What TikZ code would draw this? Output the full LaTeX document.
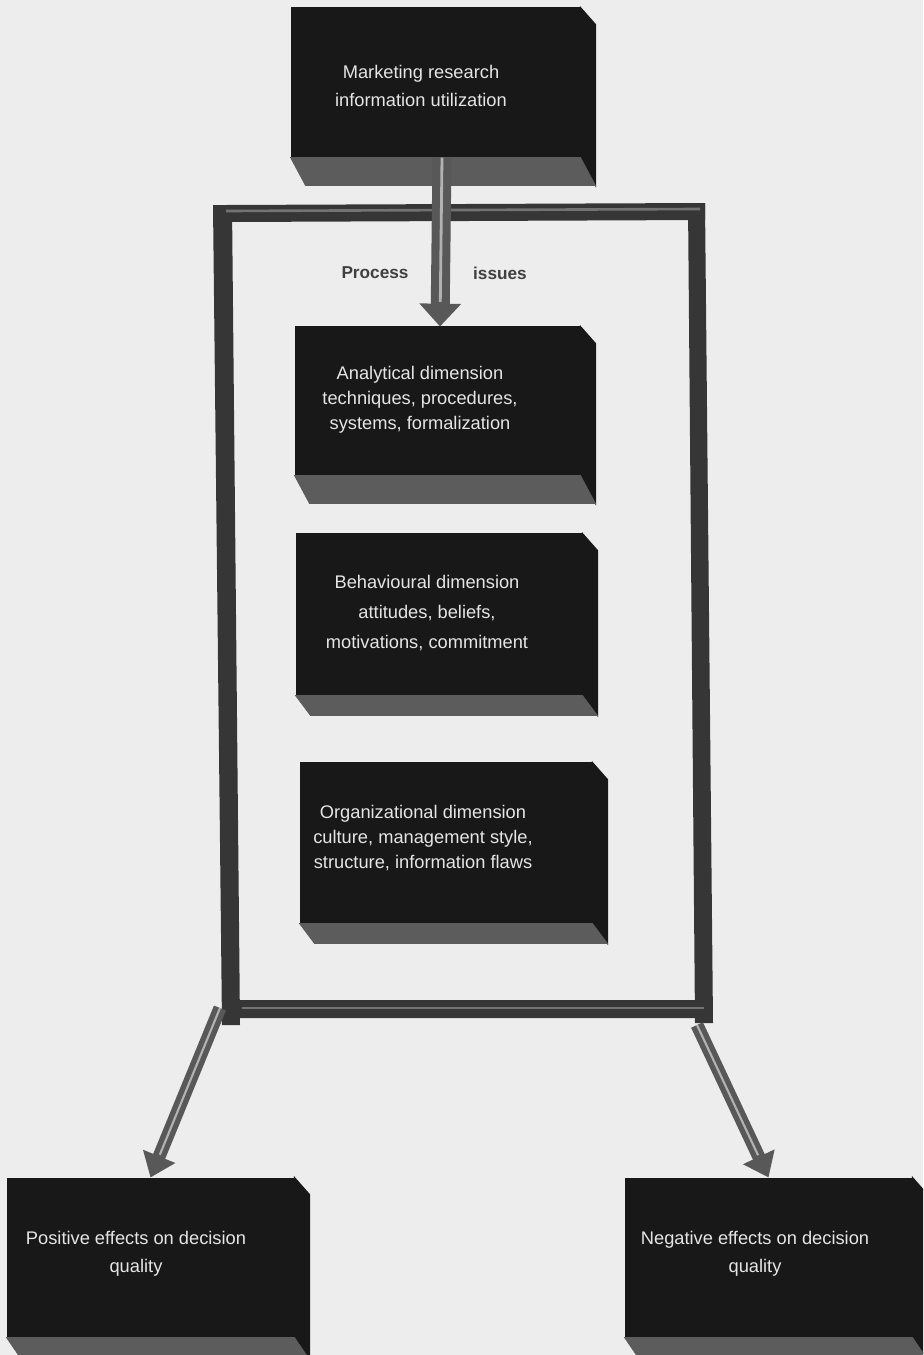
\documentclass[tikz,border=0pt]{standalone}
\usepackage{fontspec}
\setmainfont{Liberation Sans}
\usetikzlibrary{arrows.meta,calc}

\definecolor{paper}{HTML}{EDEDED}
\definecolor{boxface}{HTML}{181818}
\definecolor{boxbase}{HTML}{5C5C5C}
\definecolor{barcol}{HTML}{363636}
\definecolor{pipecol}{HTML}{585858}

\begin{document}
\begin{tikzpicture}[x=0.02cm, y=-0.02cm,
  slab/.style={fill=boxface, draw=boxface, line width=0.6pt, inner sep=0pt},
  slabtext/.style={text=white!90!black, align=center, font=\fontsize{10.4}{#1}\selectfont},
  slabtext/.default=16,
  tag/.style={text=black!75, font=\fontsize{9.8}{12}\selectfont\bfseries},
  bigpipe/.style={draw=pipecol, line width=10.8pt, -{Triangle[width=23pt,length=13pt]},
    postaction={draw=black!30, line width=1.6pt, shorten >=14pt, -}},
  thinpipe/.style={draw=pipecol, line width=7.4pt, -{Triangle[width=19pt,length=13pt]},
    postaction={draw=black!30, line width=1.2pt, shorten >=14pt, -}}]

  % Page
  \clip (0,0) rectangle (923,1355);
  \fill[paper] (0,0) rectangle (923,1355);

  % Dark boxes (front faces)
  \node[slab, minimum width=5.78cm, minimum height=2.98cm] (mri) at (435.5,82.5) {};
  \node[slab, minimum width=5.70cm, minimum height=2.96cm] (ana) at (437.5,401) {};
  \node[slab, minimum width=5.72cm, minimum height=3.22cm] (beh) at (439,614.5) {};
  \node[slab, minimum width=5.84cm, minimum height=3.20cm] (org) at (446,843) {};
  \node[slab, minimum width=5.74cm, minimum height=3.18cm] (pos) at (150.5,1257.5) {};
  \node[slab, minimum width=5.74cm, minimum height=3.18cm] (neg) at (768.5,1257.5) {};

  % Side and base of each box
  \foreach \n/\d in {mri/28, ana/28, beh/20, org/20, pos/22, neg/22}{
    \filldraw[boxface, line width=0.6pt] (\n.north east) -- ++(15,17) -- ($(\n.south east)+(15,\d)$) -- (\n.south east) -- cycle;
    \filldraw[boxbase, line width=0.4pt] (\n.south west) -- (\n.south east) -- ++(15,\d) -- ($(\n.south west)+(15,\d)$) -- cycle;
  }

  % Box texts
  \node[slabtext] (mri-t) at (421,86) {Marketing research\\information utilization};
  \node[slabtext=14.2] (ana-t) at (420,400) {Analytical dimension\\techniques, procedures,\\systems, formalization};
  \node[slabtext=17] (beh-t) at (427,613) {Behavioural dimension\\attitudes, beliefs,\\motivations, commitment};
  \node[slabtext=14.2] (org-t) at (423,838) {Organizational dimension\\culture, management style,\\structure, information flaws};
  \node[slabtext] (pos-t) at (136,1254) {Positive effects on decision\\quality};
  \node[slabtext] (neg-t) at (755,1254) {Negative effects on decision\\quality};

  % Frame round the process issues
  \fill[barcol] (213,205) -- (232,205) -- (240,1025) -- (222,1025) -- cycle;
  \fill[barcol] (688,203) -- (705,203) -- (713,1023) -- (695,1023) -- cycle;
  \fill[barcol] (213,218) -- (226,205) -- (705,203) -- (705,220) -- (232,222) -- cycle;
  \fill[barcol] (232,1000) -- (708,1000) -- (708,1018) -- (240,1018) -- cycle;
  \draw[black!55, line width=1.5pt] (226,211) -- (700,209);
  \draw[black!55, line width=1.5pt] (242,1008) -- (704,1008);
  \coordinate (fBL) at (220,1008);
  \coordinate (fBR) at (697,1025);

  % Labels on the top arrow
  \node[tag] (proc) at (375,273) {Process};
  \node[tag] (iss) at (500,273) {issues};

  % Arrows
  \draw[bigpipe] ([xshift=0.13cm]mri.south) -- ([xshift=0.05cm]ana.north);
  \draw[thinpipe] (fBL) -- (pos.north);
  \draw[thinpipe] (fBR) -- (neg.north);
\end{tikzpicture}
\end{document}
